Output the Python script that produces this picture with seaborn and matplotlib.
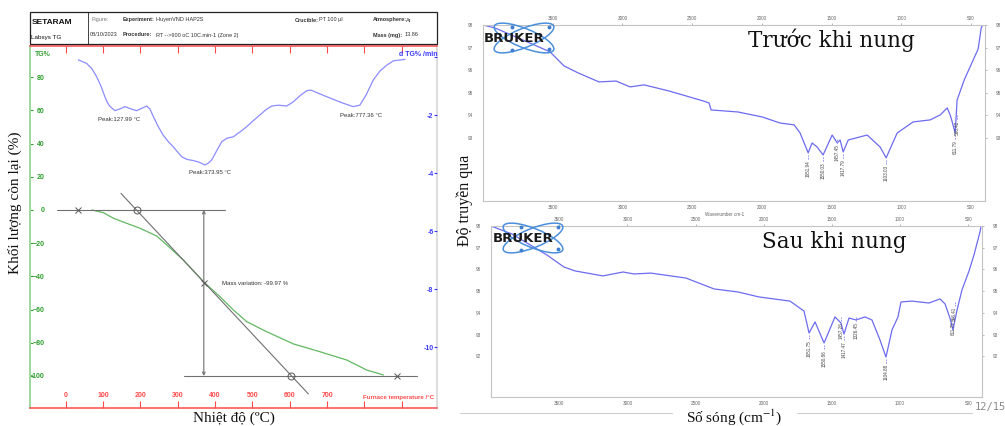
import matplotlib
matplotlib.use("Agg")
import matplotlib.pyplot as plt
import seaborn as sns
from matplotlib.patches import Ellipse, Rectangle

sns.set_theme(style="white")
plt.rcParams['font.family'] = ['Liberation Sans', 'DejaVu Sans']
plt.rcParams['mathtext.fontset'] = 'stix'

W, H = 1005, 426
SERIF = ['Liberation Serif', 'DejaVu Serif']

# ---- TG / DTG data ----
tg_temp = [70, 101, 128, 163, 199, 244, 271, 315, 369, 413, 449, 485, 538, 610, 681, 753, 806, 851]
tg_loss = [0, -1.6, -5.0, -8.0, -11.0, -15.7, -21.1, -30.1, -43.2, -52.2, -60.2, -67.3,
           -73.3, -80.7, -85.4, -90.4, -96.4, -99.4]

dtg_temp = [34, 56, 70, 83, 95, 105, 112, 119, 132, 145, 159, 175, 190, 205, 217, 226, 235,
            248, 261, 275, 288, 300, 311, 325, 342, 358, 373, 382, 391, 405, 418, 432, 449,
            465, 485, 502, 520, 536, 552, 570, 592, 610, 628, 646, 657, 668, 690, 717, 745,
            770, 788, 805, 824, 842, 860, 878, 909]
dtg_rate = [-0.10, -0.22, -0.40, -0.68, -1.02, -1.37, -1.58, -1.71, -1.85, -1.79, -1.71,
            -1.79, -1.85, -1.76, -1.69, -1.80, -2.06, -2.40, -2.69, -2.92, -3.09, -3.28,
            -3.44, -3.53, -3.57, -3.63, -3.72, -3.66, -3.55, -3.22, -2.92, -2.80, -2.75,
            -2.60, -2.40, -2.20, -2.00, -1.82, -1.69, -1.66, -1.69, -1.54, -1.33, -1.16,
            -1.14, -1.20, -1.32, -1.46, -1.60, -1.71, -1.66, -1.30, -0.79, -0.48, -0.28,
            -0.13, -0.08]

peak_temp = [87, 330, 735]
peak_rate = [-2.17, -3.97, -2.03]
peak_text = ["Peak:127.99 °C", "Peak:373.95 °C", "Peak:777.36 °C"]

mark_temp = [32, 190, 370, 604, 887]
mark_tg = [0, 0, -44, -100, -100]
mark_sym = ['x', 'o', 'x', 'o', 'x']

temp_ticks = [0, 100, 200, 300, 400, 500, 600, 700, 800, 900]
temp_labels = ['0', '100', '200', '300', '400', '500', '600', '700', '', '']
tg_ticks = [-100, -80, -60, -40, -20, 0, 20, 40, 60, 80]
dtg_ticks = [-10, -8, -6, -4, -2, 0]

# ---- FTIR data ----
wn_before = [4000, 3914, 3663, 3519, 3419, 3318, 3168, 3046, 2945, 2845, 2666, 2422, 2379,
             2364, 2171, 1998, 1869, 1769, 1726, 1668, 1640, 1604, 1561, 1496, 1460, 1439,
             1417, 1381, 1245, 1152, 1109, 1030, 915, 793, 721, 671, 650, 635, 614, 600,
             549, 449, 427, 413]
tr_before = [98.00, 97.87, 97.20, 96.81, 96.19, 95.88, 95.48, 95.52, 95.26, 95.35, 95.08,
             94.64, 94.55, 94.24, 94.15, 93.93, 93.66, 93.58, 93.22, 92.34, 92.78, 92.60,
             92.25, 93.13, 92.78, 92.91, 92.38, 92.91, 93.13, 92.60, 92.12, 93.22, 93.71,
             93.80, 94.02, 94.33, 94.02, 93.71, 93.22, 94.68, 95.57, 96.94, 97.87, 98.04]
pk_before_wn = [1668, 1561, 1460, 1417, 1109, 614, 600]
pk_before_tr = [92.34, 92.25, 93.05, 92.38, 92.12, 93.22, 94.1]
pk_before_lab = ["1651.94", "1550.03", "1457.45", "1417.79", "1103.03", "611.79", "566.42"]

wn_after = [4000, 3846, 3589, 3465, 3384, 3179, 3032, 2952, 2827, 2570, 2365, 2189, 2035,
            1808, 1705, 1668, 1624, 1558, 1478, 1434, 1412, 1375, 1324, 1258, 1207, 1148,
            1104, 1060, 1016, 994, 913, 789, 708, 671, 635, 613, 583, 547, 495, 459, 415, 407]
tr_after = [98.00, 97.63, 96.66, 96.11, 95.93, 95.70, 95.88, 95.79, 95.83, 95.60, 95.10,
            94.96, 94.73, 94.54, 94.08, 93.07, 93.58, 92.61, 93.81, 93.53, 93.02, 93.76,
            93.67, 93.81, 93.67, 92.75, 91.96, 93.21, 93.81, 94.50, 94.54, 94.45, 94.64,
            94.41, 93.76, 93.21, 94.13, 95.05, 95.93, 96.66, 97.72, 98.00]
pk_after_wn = [1668, 1558, 1434, 1412, 1324, 1104, 613, 600]
pk_after_tr = [93.07, 92.61, 93.9, 93.02, 93.9, 91.96, 93.95, 94.6]
pk_after_lab = ["1651.75", "1550.86", "1457.26", "1417.47", "1326.45", "1104.88", "611.79", "566.41"]

wn_ticks = [3500, 3000, 2500, 2000, 1500, 1000, 500]

fig = plt.figure(figsize=(W / 100, H / 100), dpi=100)


def px_axes(x0, y0, x1, y1, **kw):
    return fig.add_axes([x0 / W, 1 - y1 / H, (x1 - x0) / W, (y1 - y0) / H], **kw)


RED, GREEN, BLUE = '#ff4b4b', '#2e9e2e', '#3a3aff'

# ================= left: TG / DTG =================
ax = px_axes(30, 46, 437, 408)
ax.set_xlim(-95.6, 994.6)
ax.set_ylim(-119.3, 98.8)
ax2 = ax.twinx()
ax2.set_ylim(-12.1, 0.38)

sns.lineplot(x=tg_temp, y=tg_loss, ax=ax, color='#62b862', lw=0.9, sort=False, estimator=None)
sns.lineplot(x=dtg_temp, y=dtg_rate, ax=ax2, color='#8c8cff', lw=0.9, sort=False, estimator=None)

# construction lines of the mass-variation measurement
ax.plot([-22, 427], [0, 0], color='#707070', lw=0.8)
ax.plot([317, 940], [-100, -100], color='#707070', lw=0.8)
ax.plot([148, 650], [10, -110.8], color='#707070', lw=0.8)
ax.annotate('', xy=(370, 0), xytext=(370, -100),
            arrowprops=dict(arrowstyle='<->', color='#707070', lw=0.8, shrinkA=0, shrinkB=0,
                            mutation_scale=5))
for t, m, s in zip(mark_temp, mark_tg, mark_sym):
    ax.plot(t, m, marker=s, ms=5, mfc='none', mec='#555555', mew=0.7)
ax.text(419, -44, 'Mass variation: -99.97 %', fontsize=4.3, color='#333333', va='center')
for t, r, s in zip(peak_temp, peak_rate, peak_text):
    ax2.text(t, r, s, fontsize=4.3, color='#333333', va='center')

for sp in ['top', 'bottom']:
    ax.spines[sp].set_color(RED)
    ax.spines[sp].set_linewidth(1.1)
ax.spines['left'].set_color('#9ed89e')
ax.spines['left'].set_linewidth(1.4)
ax.spines['right'].set_color('#d8d8d8')
for sp in ax2.spines.values():
    sp.set_visible(False)

ax.set_xticks(temp_ticks)
ax.set_xticklabels(temp_labels)
ax.tick_params(axis='x', direction='in', length=5, width=0.8, color=RED, top=True,
               bottom=True, labelcolor=RED, labelsize=5, pad=-11.5)
ax.set_yticks(tg_ticks)
ax.tick_params(axis='y', direction='in', length=2.5, width=0.8, color=GREEN, left=True,
               labelcolor=GREEN, labelsize=5, pad=-10.5)
ax2.set_yticks(dtg_ticks)
ax2.set_yticklabels([str(v) for v in dtg_ticks[:-1]] + [''])
ax2.tick_params(axis='y', direction='in', length=2.5, width=0.8, color=BLUE, right=True,
                labelcolor=BLUE, labelsize=5, pad=-2.5)
for lab in ax.get_xticklabels() + ax.get_yticklabels():
    lab.set_fontweight('bold')
for lab in ax2.get_yticklabels():
    lab.set_fontweight('bold')
    lab.set_horizontalalignment('right')
ax.set_xlabel('')
ax.set_ylabel('')
ax2.set_ylabel('')

# ================= right: FTIR =================
ax_b = px_axes(483, 25, 985, 201)
ax_a = px_axes(491, 226, 982, 397)
specs = [(ax_b, wn_before, tr_before, (90.21, 98.0), [98, 97, 96, 95, 94, 93],
          pk_before_wn, pk_before_tr, pk_before_lab),
         (ax_a, wn_after, tr_after, (90.12, 98.0), [98, 97, 96, 95, 94, 93, 92],
          pk_after_wn, pk_after_tr, pk_after_lab)]
for a, wn, tr, yl, yt, pw, pt, pl in specs:
    sns.lineplot(x=wn, y=tr, ax=a, color='#6c6cf0', lw=0.9, sort=False, estimator=None)
    for w, t, l in zip(pw, pt, pl):
        a.plot([w, w], [t - 0.08, t - 0.3], color='#8c8cf5', lw=0.6, ls=(0, (2, 1)))
        a.text(w, t - 0.32, l, rotation=90, fontsize=3.3, color='#444444',
               ha='center', va='top')
    a.set_xlim(4000, 400)
    a.set_ylim(*yl)
    a.set_xticks(wn_ticks)
    a.set_yticks(yt)
    a.tick_params(axis='x', direction='out', length=1.5, width=0.5, color='#999999',
                  labelsize=3.3, labelcolor='#666666', pad=1.5, top=True, labeltop=True)
    a.tick_params(axis='y', direction='out', length=1.5, width=0.5, color='#999999',
                  labelsize=3.3, labelcolor='#666666', pad=6, right=True, labelright=True)
    for sp in a.spines.values():
        sp.set_color('#c4c4c4')
        sp.set_linewidth(0.8)
    a.set_xlabel('')
    a.set_ylabel('')

# ================= overlay: header, labels, logos =================
ov = fig.add_axes([0, 0, 1, 1], zorder=10)
ov.set_xlim(0, W)
ov.set_ylim(H, 0)
ov.axis('off')
ov.patch.set_alpha(0)

ov.add_patch(Rectangle((30, 12), 407, 32, fill=False, ec='#222222', lw=0.9))
ov.plot([88, 88], [12, 44], color='#222222', lw=0.6)
hs = dict(fontsize=4.0, va='center', color='#333333')
ov.text(32, 23, 'SETARAM', fontsize=6, fontweight='bold', va='center', color='#111111')
ov.text(31, 38, 'Labsys TG', fontsize=4.5, va='center', color='#111111')
ov.text(91, 20, 'Figure:', color='#777777', fontsize=4.0, va='center')
ov.text(123, 20, 'Experiment:', fontweight='bold', **hs)
ov.text(156, 20, 'HuyenVND HAP2S', **hs)
ov.text(295, 20, 'Crucible:', fontweight='bold', **hs)
ov.text(319, 20, 'PT 100 µl', **hs)
ov.text(373, 20, 'Atmosphere:', fontweight='bold', **hs)
ov.text(406, 20, 'Ar', **hs)
ov.text(90, 35, '08/10/2023', **hs)
ov.text(123, 35, 'Procedure:', fontweight='bold', **hs)
ov.text(156, 35, 'RT -->900 oC 10C.min-1 (Zone 2)', **hs)
ov.text(373, 35, 'Mass (mg):', fontweight='bold', **hs)
ov.text(405, 35, '13.86', **hs)

ov.text(35, 55, 'TG%', fontsize=5, fontweight='bold', color=GREEN, va='center')
ov.text(399, 55, 'd TG% /min', fontsize=5, fontweight='bold', color=BLUE, va='center')
ov.text(363, 397, 'Furnace temperature /°C', fontsize=4.4, fontweight='bold', color=RED,
        va='center')

ov.text(15, 203, 'Khối lượng còn lại (%)', rotation=90, fontsize=11, family=SERIF,
        ha='center', va='center', color='#111111')
ov.text(234, 418, 'Nhiệt độ (ºC)', fontsize=11, family=SERIF, ha='center', va='center',
        color='#111111')
ov.text(465, 200, 'Độ truyền qua', rotation=90, fontsize=11.5, family=SERIF,
        ha='center', va='center', color='#111111')
ov.text(734, 422, 'Số sóng (cm$^{-1}$)', fontsize=11, family=SERIF, ha='center',
        va='baseline', color='#111111')
ov.plot([460, 672], [412.7, 412.7], color='#cfcfcf', lw=0.8)
ov.plot([797, 972], [412.7, 412.7], color='#cfcfcf', lw=0.8)
ov.text(975, 410, '12/15', fontsize=7.5, family=['DejaVu Sans Mono'], ha='left',
        va='baseline', color='#8a8a8a')

ov.text(748, 47, 'Trước khi nung', fontsize=15.5, family=['DejaVu Serif'], va='baseline',
        color='#111111')
ov.text(762, 248, 'Sau khi nung', fontsize=15.5, family=['DejaVu Serif'], va='baseline',
        color='#111111')
ov.text(725, 215, 'Wavenumber cm-1', fontsize=3.3, color='#666666', ha='center', va='center')

for lx, ly in [(484, 38), (493, 238)]:
    cx = lx + 40
    for ang in (22, -22):
        ov.add_patch(Ellipse((cx, ly), 64, 19, angle=ang, fill=False, ec='#4b8fdc', lw=1.1))
    for dx, dy in [(-12, -11), (-12, 12), (25, 11), (25, -11)]:
        ov.plot(cx + dx, ly + dy, 'o', ms=1.8, color='#3f7fd0')
    ov.text(lx, ly, 'BRUKER', fontsize=9.5, fontweight='bold', family=['DejaVu Sans'],
            va='center', color='#1a1a1a')

fig.savefig('out.png', dpi=100)
